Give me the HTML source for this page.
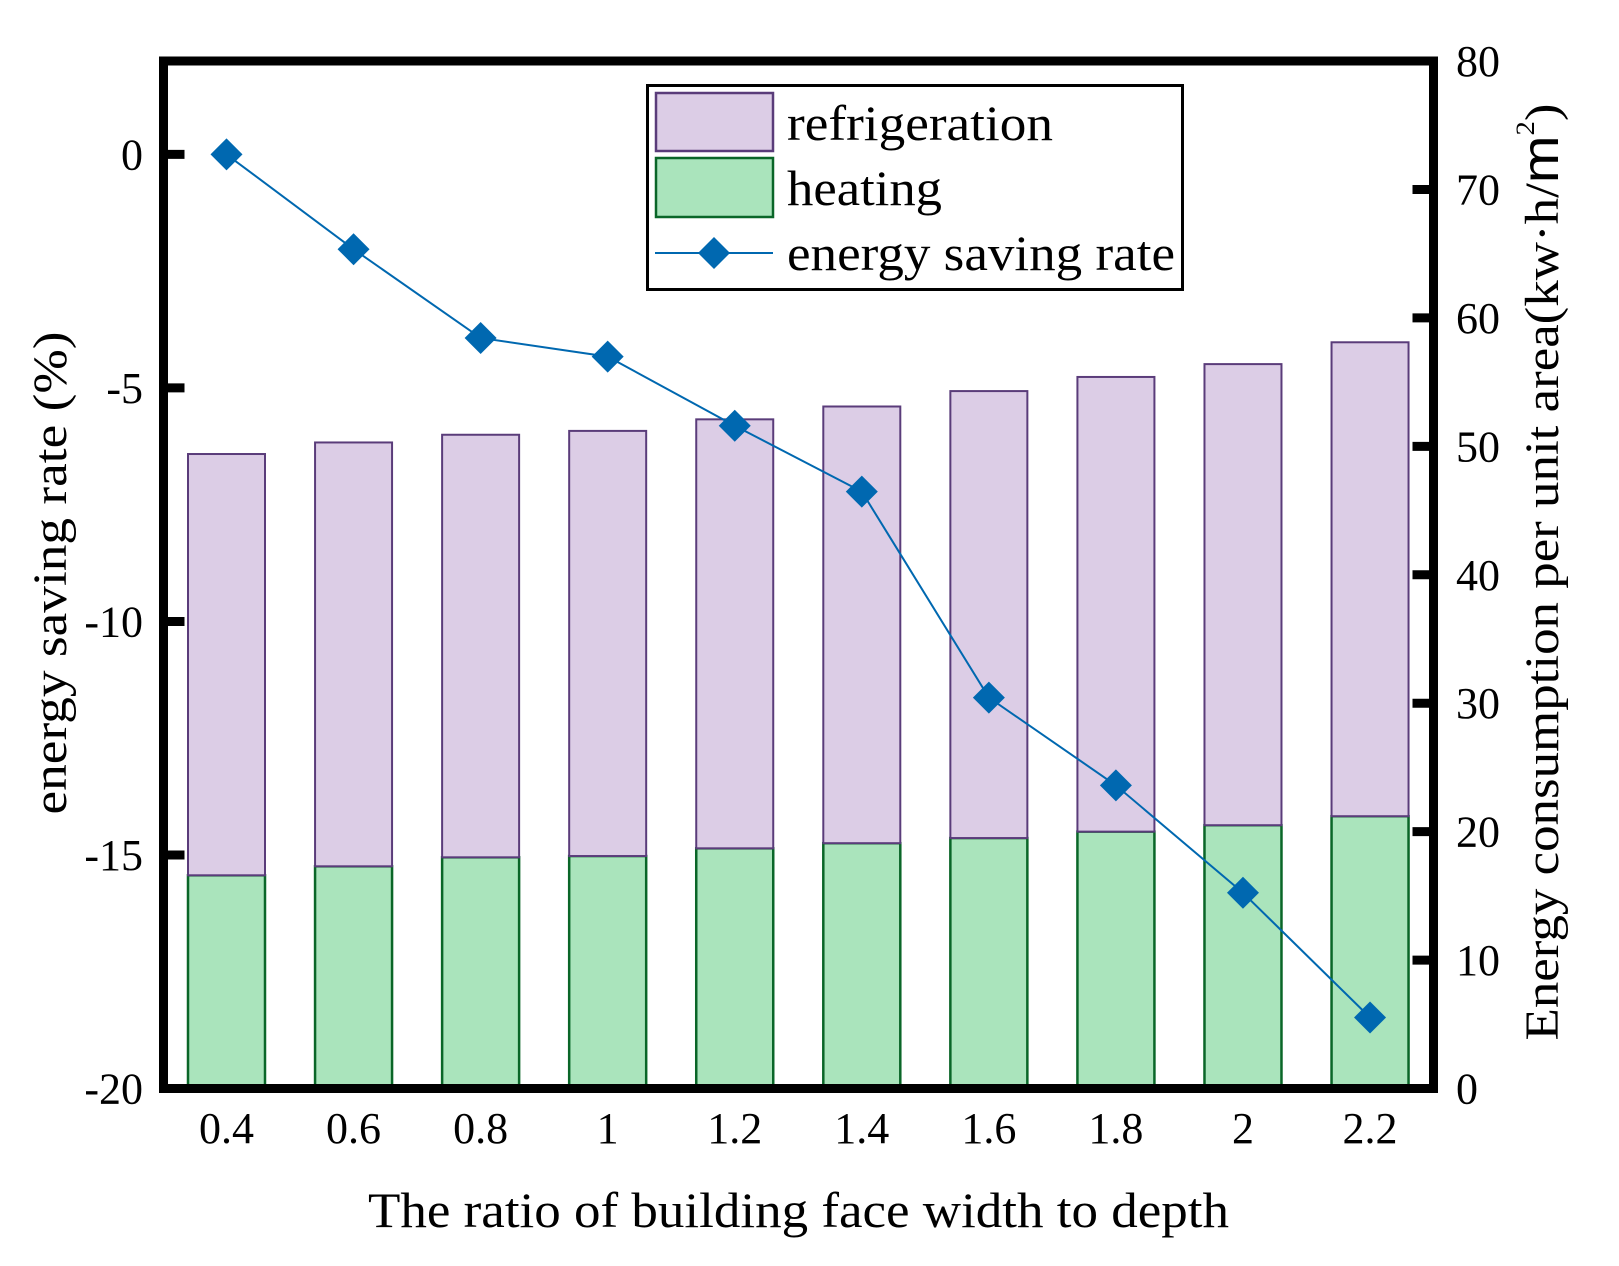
<!DOCTYPE html>
<html><head><meta charset="utf-8"><style>
html,body{margin:0;padding:0;background:#fff;}
svg{display:block;font-family:"Liberation Serif",serif;}
</style></head><body>
<svg id="chart" width="1619" height="1266" viewBox="0 0 1619 1266" xmlns="http://www.w3.org/2000/svg">
<g id="bars"></g>
<g id="line"></g>
<g id="axes"></g>
<g>
  <rect x="647.5" y="85.5" width="535" height="204" fill="#fff" stroke="#000" stroke-width="3"/>
  <rect x="656" y="93" width="117" height="58" fill="#dccde6" stroke="#5a3c7a" stroke-width="2.5"/>
  <text x="787" y="140" font-size="50" textLength="266" lengthAdjust="spacingAndGlyphs">refrigeration</text>
  <rect x="656" y="158" width="117" height="59" fill="#aae4bc" stroke="#0a6628" stroke-width="2.5"/>
  <text x="787" y="205" font-size="50" textLength="155" lengthAdjust="spacingAndGlyphs">heating</text>
  <line x1="655" y1="253" x2="773" y2="253" stroke="#0068b0" stroke-width="2"/>
  <polygon points="714,237 730,253 714,269 698,253" fill="#0068b0"/>
  <text x="787" y="270" font-size="50" textLength="388" lengthAdjust="spacingAndGlyphs">energy saving rate</text>
</g>
<text x="368" y="1227" font-size="50" textLength="861" lengthAdjust="spacingAndGlyphs">The ratio of building face width to depth</text>
<text transform="translate(66,573) rotate(-90)" text-anchor="middle" font-size="48" textLength="483" lengthAdjust="spacingAndGlyphs">energy saving rate (%)</text>
<text transform="translate(1558,572) rotate(-90)" text-anchor="middle" font-size="48" textLength="937" lengthAdjust="spacingAndGlyphs">Energy consumption per unit area(kw·h/<tspan font-family="Liberation Sans, sans-serif" font-size="52">m</tspan><tspan font-size="26" dy="-24">2</tspan><tspan dy="24">)</tspan></text>
</svg>
<script>
const categories = ["0.4","0.6","0.8","1","1.2","1.4","1.6","1.8","2","2.2"];
const heating = [16.6,17.3,18.0,18.1,18.7,19.1,19.5,20.0,20.5,21.2];
const refrigeration = [32.8,33.0,32.9,33.1,33.4,34.0,34.8,35.4,35.9,36.9];
const savingRate = [0,-2.03,-3.93,-4.33,-5.81,-7.22,-11.63,-13.51,-15.81,-18.48];
const leftTicks = [0,-5,-10,-15,-20];
const rightTicks = [0,10,20,30,40,50,60,70,80];

const NS = "http://www.w3.org/2000/svg";
const L = 163.5, R = 1433.5, T = 61, B = 1088.5;
const x0 = 226.5, step = 127.06, barW = 77;
const xPos = i => x0 + i * step;
const yL = v => B - (v - (-20)) / 22 * (B - T);
const yR = v => B - v / 80 * (B - T);
function mk(tag, attrs, parent){ const e=document.createElementNS(NS,tag); for(const k in attrs) e.setAttribute(k,attrs[k]); parent.appendChild(e); return e; }

const bars = document.getElementById('bars');
categories.forEach((c,i)=>{
  const xc = xPos(i);
  const h = mk('rect',{x:xc-barW/2,y:yR(heating[i]),width:barW,height:B-yR(heating[i]),fill:'#aae4bc',stroke:'#0a6628','stroke-width':2.5},bars);
  
  
  const tot = heating[i]+refrigeration[i];
  const r = mk('rect',{x:xc-barW/2,y:yR(tot),width:barW,height:yR(heating[i])-yR(tot),fill:'#dccde6',stroke:'#5a3c7a','stroke-width':2},bars);
  
  
});

const line = document.getElementById('line');
const pts = savingRate.map((v,i)=>xPos(i)+','+yL(v)).join(' ');
const pl = mk('polyline',{points:pts,fill:'none',stroke:'#0068b0','stroke-width':2},line);


savingRate.forEach((v,i)=>{
  const x=xPos(i), y=yL(v), d=16;
  const p = mk('polygon',{points:`${x},${y-d} ${x+d},${y} ${x},${y+d} ${x-d},${y}`,fill:'#0068b0'},line);
  
  
});

const axes = document.getElementById('axes');
const frame = mk('rect',{x:L,y:T,width:R-L,height:B-T,fill:'none',stroke:'#000','stroke-width':9},axes);


leftTicks.forEach(v=>{
  const y=yL(v);
  const t = mk('line',{x1:L,y1:y,x2:L+21,y2:y,stroke:'#000','stroke-width':9},axes);
  
  
  const lb = mk('text',{x:143,y:y+15,'text-anchor':'end','font-size':44},axes);
  lb.textContent = v;
  
  
});
rightTicks.forEach(v=>{
  const y=yR(v);
  const t = mk('line',{x1:R-21,y1:y,x2:R,y2:y,stroke:'#000','stroke-width':9},axes);
  
  
  const lb = mk('text',{x:1456,y:y+15,'font-size':44},axes);
  lb.textContent = v;
  
  
});
categories.forEach((c,i)=>{
  const lb = mk('text',{x:xPos(i),y:1143,'text-anchor':'middle','font-size':44},axes);
  lb.textContent = c;
  
  
});
</script>
</body></html>
